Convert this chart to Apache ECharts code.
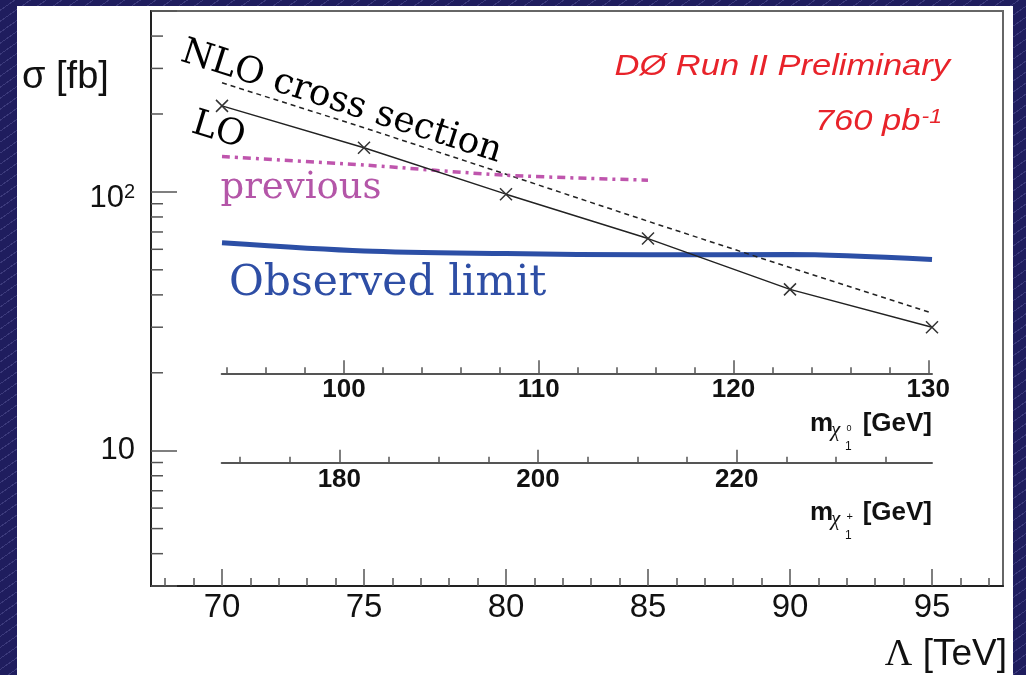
<!DOCTYPE html>
<html>
<head>
<meta charset="utf-8">
<script src="https://cdn.jsdelivr.net/npm/echarts@6/dist/echarts.min.js"></script>
<style>
  html, body { margin: 0; padding: 0; width: 1026px; height: 675px; overflow: hidden; }
  body {
    background-color: #1f1d5e;
    background-image: repeating-linear-gradient(145deg,
      rgba(255,255,255,0) 0px, rgba(255,255,255,0) 8px,
      rgba(190,190,255,0.18) 8px, rgba(190,190,255,0.18) 9px);
  }
  #panel { position: absolute; left: 17px; top: 6px; width: 996px; height: 669px; background: #fff; }
  #chart { position: absolute; left: 0; top: 0; width: 1026px; height: 675px; }
</style>
</head>
<body>
<div id="panel"></div>
<div id="chart"></div>
<script>
// Λ scan points [TeV] and cross sections [fb]
const lambdaTeV = [70, 75, 80, 85, 90, 95];
const sigmaLO = [215, 148, 98, 66, 42, 30];
const sigmaNLO = [264, 177, 117, 77, 51, 34];
const sigmaObserved = [63.6, 59.1, 57.8, 57.1, 57.3, 54.8];
const lambdaPrevious = [70, 75, 80, 85];
const sigmaPrevious = [137, 127, 116, 111];

// tick values
const lambdaMajorTicks = [70, 75, 80, 85, 90, 95];
const lambdaMinorTicks = [68, 69, 71, 72, 73, 74, 76, 77, 78, 79, 81, 82, 83, 84, 86, 87, 88, 89, 91, 92, 93, 94, 96, 97];
const sigmaMinorTicks = [4, 5, 6, 7, 8, 9, 20, 30, 40, 50, 60, 70, 80, 90, 200, 300, 400];
const neutralinoMajorTicks = [100, 110, 120, 130];
const neutralinoMinorTicks = [94, 96, 98, 102, 104, 106, 108, 112, 114, 116, 118, 122, 124, 126, 128];
const charginoMajorTicks = [180, 200, 220];
const charginoMinorTicks = [170, 175, 185, 190, 195, 205, 210, 215, 225, 230, 235];

const LAMBDA_MIN = 67.5, LAMBDA_MAX = 97.5;
const SANS = '"Liberation Sans", Arial, sans-serif';
const SERIF = '"DejaVu Serif", serif';
const GREEK = '"Liberation Serif", serif';
const TICK = '#555';

const pairs = (xs, ys) => xs.map((x, i) => [x, ys[i]]);

function tickAxis(grid, min, max, values, len, opts) {
  return Object.assign({
    type: 'value', gridIndex: grid, min: min, max: max, position: 'bottom',
    axisLine: { show: false, onZero: false },
    axisTick: { show: true, inside: true, length: len, customValues: values, lineStyle: { color: TICK, width: 1.5 } },
    axisLabel: { show: false },
    splitLine: { show: false }
  }, opts || {});
}

// "m" with a χ subscript carrying an upper and a lower index, then "[GeV]"
function massTitle(yMid, upper) {
  const t = (x, y, text, size, extra) => ({
    type: 'text', x: x, y: y,
    style: Object.assign({ text: text, fontSize: size, fontFamily: SANS, fill: '#111', verticalAlign: 'middle' }, extra || {})
  });
  return [
    t(810, yMid, 'm', 26, { fontWeight: 'bold' }),
    t(831, yMid + 6.5, 'χ', 21, { fontStyle: 'italic', fontFamily: GREEK }),
    t(846.5, yMid + 4.5, upper, upper === '+' ? 11 : 9),
    t(845, yMid + 23, '1', 12),
    t(932, yMid, '[GeV]', 26, { fontWeight: 'bold', align: 'right' })
  ];
}

const chart = echarts.init(document.getElementById('chart'), null, { renderer: 'canvas' });

const option = {
  animation: false,
  backgroundColor: 'transparent',
  grid: [
    { left: 151, top: 11, right: 23, bottom: 89, show: true, borderColor: '#666', borderWidth: 2, backgroundColor: 'transparent' },
    { left: 221.7, width: 710.3, top: 300, height: 73.3 },
    { left: 221.7, width: 710.3, top: 400, height: 62.7 }
  ],
  xAxis: [
    tickAxis(0, LAMBDA_MIN, LAMBDA_MAX, lambdaMajorTicks, 17, {
      axisLine: { show: true, onZero: false, lineStyle: { color: '#222', width: 2 } },
      axisLabel: { show: true, customValues: lambdaMajorTicks, margin: 5, fontSize: 33, fontFamily: SANS, color: '#111' }
    }),
    tickAxis(0, LAMBDA_MIN, LAMBDA_MAX, lambdaMinorTicks, 8),
    tickAxis(1, 93.72, 130.19, neutralinoMajorTicks, 13, {
      axisLine: { show: true, onZero: false, lineStyle: { color: '#555', width: 2 } },
      axisLabel: { show: true, customValues: neutralinoMajorTicks, margin: 4, fontSize: 26, fontWeight: 'bold', fontFamily: SANS, color: '#111' }
    }),
    tickAxis(1, 93.72, 130.19, neutralinoMinorTicks, 6),
    tickAxis(2, 168.16, 239.66, charginoMajorTicks, 13, {
      axisLine: { show: true, onZero: false, lineStyle: { color: '#555', width: 2 } },
      axisLabel: { show: true, customValues: charginoMajorTicks, margin: 4, fontSize: 26, fontWeight: 'bold', fontFamily: SANS, color: '#111' }
    }),
    tickAxis(2, 168.16, 239.66, charginoMinorTicks, 6)
  ],
  yAxis: [
    {
      type: 'log', logBase: 10, gridIndex: 0, min: 3, max: 500,
      axisLine: { show: true, onZero: false, lineStyle: { color: '#222', width: 2 } },
      axisTick: { show: true, inside: true, length: 26, lineStyle: { color: TICK, width: 1.5 } },
      minorTick: { show: false },
      splitLine: { show: false },
      axisLabel: {
        show: true, margin: 16, fontSize: 31, fontFamily: SANS, color: '#111',
        formatter: function (v) {
          if (Math.abs(v - 100) < 1e-6) return '{b|10}{s|2}';
          if (Math.abs(v - 10) < 1e-6) return '10';
          return '';
        },
        rich: {
          b: { fontSize: 31, fontFamily: SANS, color: '#111', padding: [14, 0, 0, 0] },
          s: { fontSize: 20, fontFamily: SANS, color: '#111', verticalAlign: 'top', padding: [13, 0, 0, 0] }
        }
      }
    },
    { type: 'value', gridIndex: 1, show: false, min: 0, max: 1 },
    { type: 'value', gridIndex: 2, show: false, min: 0, max: 1 }
  ],
  series: [
    {
      name: 'NLO', type: 'line', xAxisIndex: 0, yAxisIndex: 0,
      data: pairs(lambdaTeV, sigmaNLO), showSymbol: false, symbol: 'none',
      lineStyle: { color: '#222', width: 1.5, type: [5, 4] }, z: 3
    },
    {
      name: 'LO', type: 'line', xAxisIndex: 0, yAxisIndex: 0,
      data: pairs(lambdaTeV, sigmaLO),
      symbol: 'path://M0,0L10,10M10,0L0,10', symbolSize: 12,
      itemStyle: { color: '#333', borderColor: '#333', borderWidth: 1.5 },
      lineStyle: { color: '#222', width: 1.5 }, z: 4
    },
    {
      name: 'previous', type: 'line', xAxisIndex: 0, yAxisIndex: 0,
      data: pairs(lambdaPrevious, sigmaPrevious), symbol: 'none', smooth: 0.3,
      lineStyle: { color: '#bf55ad', width: 3.5, type: [8, 5, 3, 5] }, z: 3
    },
    {
      name: 'Observed limit', type: 'line', xAxisIndex: 0, yAxisIndex: 0,
      data: pairs(lambdaTeV, sigmaObserved), symbol: 'none', smooth: 0.3,
      lineStyle: { color: '#2c4fa6', width: 5 }, z: 2
    },
    {
      // minor ticks of the logarithmic σ axis
      type: 'custom', xAxisIndex: 0, yAxisIndex: 0, silent: true, z: 5,
      data: sigmaMinorTicks.map(v => [LAMBDA_MIN, v]),
      renderItem: function (params, api) {
        const y = api.coord([LAMBDA_MIN, api.value(1)])[1];
        const x0 = params.coordSys.x;
        return { type: 'line', shape: { x1: x0, y1: y, x2: x0 + 12, y2: y }, style: { stroke: TICK, lineWidth: 1.5 } };
      }
    }
  ],
  graphic: [
    { type: 'text', x: 22, y: 78, style: { text: 'σ [fb]', fontSize: 38, fontFamily: SANS, fill: '#111', align: 'left', verticalAlign: 'middle' } },
    {
      type: 'text', x: 1007, y: 655,
      style: {
        text: '{g|Λ} [TeV]', fontSize: 37, fontFamily: SANS, fill: '#111', align: 'right', verticalAlign: 'middle',
        rich: { g: { fontSize: 38, fontFamily: GREEK, fill: '#111' } }
      }
    },
    {
      type: 'text', x: 182, y: 51.5, rotation: -17.7 * Math.PI / 180,
      style: { text: 'NLO cross section', fontSize: 36, fontFamily: SERIF, fill: '#000', align: 'left', verticalAlign: 'middle' }
    },
    {
      type: 'text', x: 192.8, y: 123, rotation: -17 * Math.PI / 180,
      style: { text: 'LO', fontSize: 36, fontFamily: SERIF, fill: '#000', align: 'left', verticalAlign: 'middle' }
    },
    { type: 'text', x: 220.5, y: 188, style: { text: 'previous', fontSize: 37, fontFamily: SERIF, fill: '#b456a8', align: 'left', verticalAlign: 'middle' } },
    { type: 'text', x: 229, y: 284, style: { text: 'Observed limit', fontSize: 42.5, fontFamily: SERIF, fill: '#2e4ea5', align: 'left', verticalAlign: 'middle' } },
    {
      type: 'text', x: 950, y: 66.3, scaleX: 1.15,
      style: { text: 'DØ Run II Preliminary', fontSize: 30, fontStyle: 'italic', fontFamily: SANS, fill: '#e8232a', align: 'right', verticalAlign: 'middle' }
    },
    {
      type: 'text', x: 942, y: 121.3, scaleX: 1.15,
      style: {
        text: '760 pb{s|-1}', fontSize: 30, fontStyle: 'italic', fontFamily: SANS, fill: '#e8232a', align: 'right', verticalAlign: 'middle',
        rich: { s: { fontSize: 20, fontStyle: 'italic', fontFamily: SANS, fill: '#e8232a', verticalAlign: 'top', padding: [1, 0, 0, 1] } }
      }
    }
  ].concat(massTitle(424, '0'), massTitle(512.7, '+'))
};

chart.setOption(option);
</script>
</body>
</html>
